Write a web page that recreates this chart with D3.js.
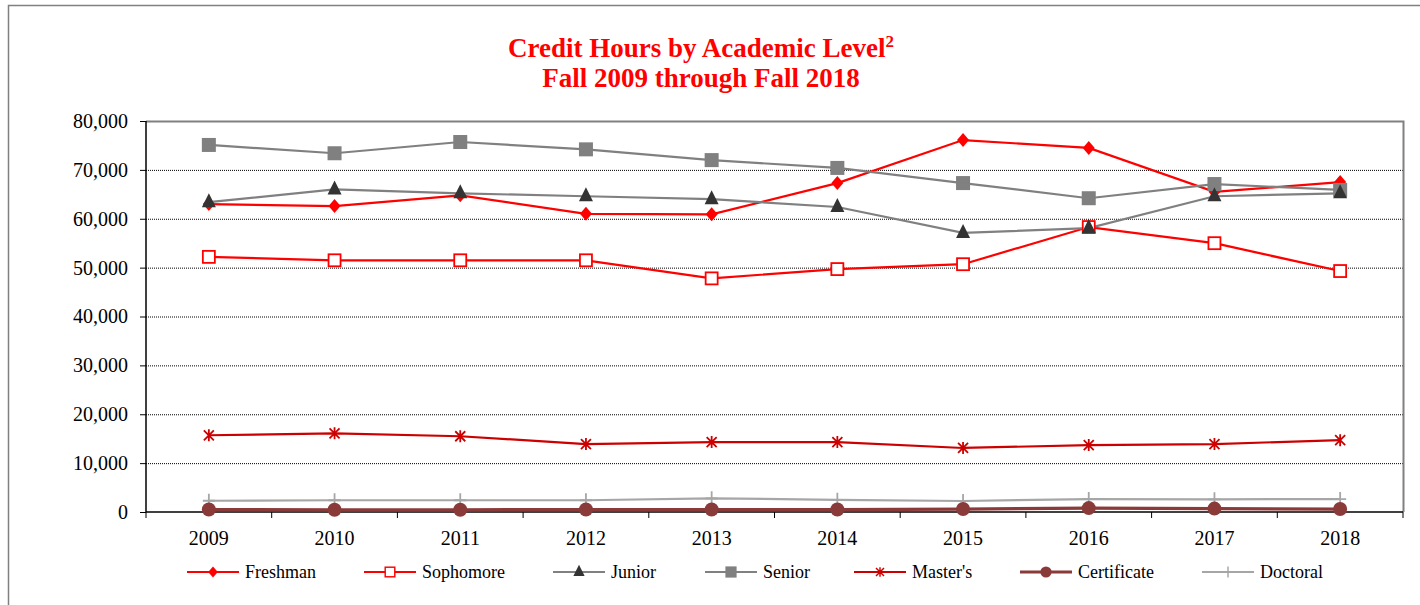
<!DOCTYPE html>
<html><head><meta charset="utf-8">
<script src="https://cdn.jsdelivr.net/npm/d3@7"></script>
<style>body{margin:0;background:#fff}svg{display:block}</style>
</head><body>
<script>
const years = ["2009","2010","2011","2012","2013","2014","2015","2016","2017","2018"];
const yTicks = [0,10000,20000,30000,40000,50000,60000,70000,80000];
const freshman   = [63000,62600,64800,61000,60900,67300,76100,74500,65500,67500];
const sophomore  = [52200,51500,51500,51500,47800,49700,50700,58300,55000,49300];
const junior     = [63400,66000,65200,64600,64000,62400,57100,58100,64600,65200];
const senior     = [75100,73400,75700,74200,72000,70400,67300,64200,67100,65900];
const masters    = [15700,16100,15500,13900,14300,14300,13100,13700,13900,14700];
const certificate= [500,450,450,500,500,500,600,800,700,600];
const doctoral   = [2300,2400,2400,2400,2800,2500,2250,2650,2600,2650];

const series = [
  {name:"Freshman", values:freshman, line:"#ff0000", w:2.2, marker:"diamond", fill:"#ff0000", stroke:"#ff0000"},
  {name:"Sophomore", values:sophomore, line:"#ff0000", w:2.2, marker:"square", fill:"#fff", stroke:"#ff0000"},
  {name:"Junior", values:junior, line:"#808080", w:2.2, marker:"triangle", fill:"#333", stroke:"#333"},
  {name:"Senior", values:senior, line:"#808080", w:2.2, marker:"squareFilled", fill:"#808080", stroke:"#808080"},
  {name:"Master's", values:masters, line:"#cc0000", w:2.2, marker:"star", fill:"none", stroke:"#cc0000"},
  {name:"Certificate", values:certificate, line:"#8b3a3a", w:3.2, marker:"circle", fill:"#8b3a3a", stroke:"#8b3a3a"},
  {name:"Doctoral", values:doctoral, line:"#a6a6a6", w:2.2, marker:"plus", fill:"none", stroke:"#a6a6a6"}
];

const FONT = "'Liberation Serif','Times New Roman',serif";
const W=1420,H=605;
const svg = d3.select("body").append("svg").attr("width",W).attr("height",H);
svg.append("rect").attr("x",8.5).attr("y",5.5).attr("width",1430).attr("height",620)
  .attr("fill","#fff").attr("stroke","#808080").attr("stroke-width",1.5);

const L=146,R=1403,T=121,B=512;
const x = d3.scaleBand().domain(years).range([L,R]);
const y = d3.scaleLinear().domain([0,80000]).range([B,T]);
const cx = d => x(d)+x.bandwidth()/2;

// title
const title = svg.append("text").attr("x",701).attr("y",57).attr("text-anchor","middle")
  .style("font-family",FONT).style("font-weight","bold").style("font-size","27px").attr("fill","#ff0000");
title.append("tspan").text("Credit Hours by Academic Level");
title.append("tspan").text("2").style("font-size","17px").attr("dy",-10);
svg.append("text").attr("x",701).attr("y",87).attr("text-anchor","middle")
  .style("font-family",FONT).style("font-weight","bold").style("font-size","27px").attr("fill","#ff0000")
  .text("Fall 2009 through Fall 2018");

// grid
svg.append("g").selectAll("line").data(yTicks.filter(t=>t>0&&t<80000)).join("line")
  .attr("x1",L).attr("x2",R).attr("y1",d=>y(d)+0.5).attr("y2",d=>y(d)+0.5)
  .attr("stroke","#000").attr("stroke-width",1).attr("stroke-dasharray","1,1");
// plot border top/right
svg.append("path").attr("d",`M${L},${T+0.5}H${R+0.5}V${B}`).attr("fill","none").attr("stroke","#808080").attr("stroke-width",2);

// axes
const yAxis = svg.append("g").attr("transform",`translate(${L},0)`)
  .call(d3.axisLeft(y).tickValues(yTicks).tickSize(6).tickPadding(12).tickFormat(d3.format(",")));
const xAxis = svg.append("g").attr("transform",`translate(0,${B})`)
  .call(d3.axisBottom(x).tickSize(0).tickPadding(19));
[yAxis,xAxis].forEach(g=>{
  g.attr("font-family",null).attr("font-size",null);
  g.selectAll("text").style("font-family",FONT).style("font-size","20px").attr("fill","#000");
  g.select(".domain").attr("stroke","#000").attr("stroke-width",1.5);
  g.selectAll(".tick line").attr("stroke","#000");
});
yAxis.select(".domain").attr("d",`M-0,${T}V${B}`);
xAxis.select(".domain").attr("d",`M${L},0H${R}`);
const bounds = d3.range(years.length+1).map(i=>L+i*x.step());
svg.append("g").selectAll("line").data(bounds).join("line")
  .attr("x1",d=>d).attr("x2",d=>d).attr("y1",B).attr("y2",B+6).attr("stroke","#000");

function drawMarker(g, type, s) {
  if(type==="diamond") g.append("path").attr("d",`M0,${-7}L6,0L0,7L-6,0Z`).attr("fill",s.fill);
  else if(type==="square") g.append("rect").attr("x",-6).attr("y",-6).attr("width",12).attr("height",12).attr("fill","#fff").attr("stroke",s.stroke).attr("stroke-width",1.8);
  else if(type==="squareFilled") g.append("rect").attr("x",-7).attr("y",-7).attr("width",14).attr("height",14).attr("fill",s.fill);
  else if(type==="triangle") g.append("path").attr("d","M0,-9L7,5L-7,5Z").attr("fill",s.fill);
  else if(type==="star") g.append("path").attr("d","M-5,-5L5,5M-5,5L5,-5M0,-6V6").attr("stroke",s.stroke).attr("stroke-width",1.8);
  else if(type==="circle") g.append("circle").attr("r",7).attr("fill",s.fill);
  else if(type==="plus") g.append("path").attr("d","M-6,0H6M0,-7V7").attr("stroke",s.stroke).attr("stroke-width",1.8);
}

const line = d3.line().x((d,i)=>cx(years[i])).y(d=>y(d));
const order = [6,5,4,1,0,3,2];
order.forEach(i=>{
  const s = series[i];
  svg.append("path").datum(s.values).attr("d",line).attr("fill","none").attr("stroke",s.line).attr("stroke-width",s.w);
});
order.forEach(i=>{
  const s = series[i];
  s.values.forEach((v,j)=>{
    const g = svg.append("g").attr("transform",`translate(${cx(years[j])},${y(v)})`);
    drawMarker(g,s.marker,s);
  });
});

// legend
const legX = [187,364,553,705,854,1020,1202];
const legY = 572;
series.forEach((s,i)=>{
  const g = svg.append("g").attr("transform",`translate(${legX[i]},${legY})`);
  g.append("line").attr("x1",0).attr("x2",52).attr("stroke",s.line).attr("stroke-width",s.w);
  const m = g.append("g").attr("transform","translate(26,0) scale(0.8)");
  drawMarker(m,s.marker,s);
  g.append("text").attr("x",58).attr("y",6).style("font-family",FONT).style("font-size","18px").attr("fill","#000").text(s.name);
});
</script>
</body></html>
